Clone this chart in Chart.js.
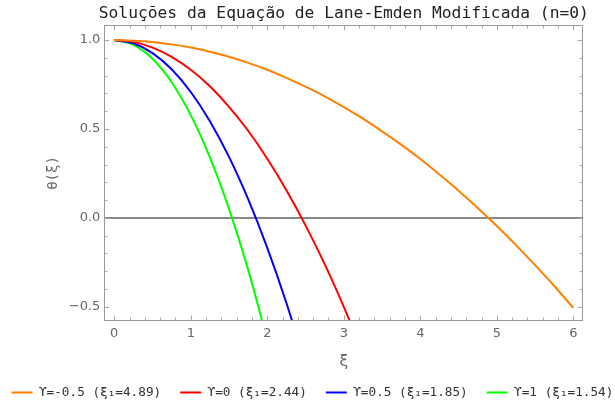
<!DOCTYPE html>
<html>
<head>
<meta charset="utf-8">
<title>Lane-Emden n=0</title>
<script src="https://cdn.jsdelivr.net/npm/chart.js@4.4.0/dist/chart.umd.min.js"></script>
<style>
  html, body { margin: 0; padding: 0; background: #fff; }
</style>
</head>
<body>
<canvas id="chart" width="615" height="405"></canvas>
<script>
// values
const xiOrange = [0, 0.25, 0.5, 0.75, 1, 1.25, 1.5, 1.75, 2, 2.25, 2.5, 2.75, 3, 3.25, 3.5, 3.75, 4, 4.25, 4.5, 4.75, 5, 5.25, 5.5, 5.75, 6];
const thetaOrange = [1.000, 0.997, 0.990, 0.976, 0.958, 0.935, 0.906, 0.872, 0.833, 0.788, 0.738, 0.684, 0.623, 0.558, 0.487, 0.412, 0.331, 0.244, 0.153, 0.056, -0.046, -0.153, -0.266, -0.383, -0.506];

const xiRed = [0, 0.25, 0.5, 0.75, 1, 1.25, 1.5, 1.75, 2, 2.25, 2.5, 2.75, 3, 3.25];
const thetaRed = [1.000, 0.990, 0.958, 0.906, 0.833, 0.740, 0.625, 0.490, 0.333, 0.156, -0.042, -0.260, -0.500, -0.760];

const xiBlue = [0, 0.25, 0.5, 0.75, 1, 1.25, 1.5, 1.75, 2, 2.25, 2.5];
const thetaBlue = [1.000, 0.982, 0.927, 0.836, 0.708, 0.544, 0.343, 0.105, -0.169, -0.479, -0.826];

const xiGreen = [0, 0.25, 0.5, 0.75, 1, 1.25, 1.5, 1.75, 2];
const thetaGreen = [1.000, 0.974, 0.895, 0.763, 0.578, 0.341, 0.051, -0.291, -0.687];

const seriesLabels = ['ϒ=-0.5 (ξ₁=4.89)', 'ϒ=0 (ξ₁=2.44)', 'ϒ=0.5 (ξ₁=1.85)', 'ϒ=1 (ξ₁=1.54)'];
const xTickValues = [0, 1, 2, 3, 4, 5, 6];
const yTickValues = [-0.5, 0, 0.5, 1];
const chartTitle = 'Soluções da Equação de Lane-Emden Modificada (n=0)';

const mono = "'DejaVu Sans Mono', monospace";
const sans = "'DejaVu Sans', sans-serif";
const labelGray = '#666';

const toPoints = (xs, ys) => xs.map((x, i) => ({ x: x, y: ys[i] }));

function lineSet(label, xs, ys, color) {
  return {
    label: label,
    data: toPoints(xs, ys),
    borderColor: color,
    backgroundColor: color,
    borderWidth: 2,
    pointRadius: 0,
    cubicInterpolationMode: 'monotone',
    fill: false
  };
}

// frame with inward ticks on all four sides (Mathematica style) + title centred over the plot
const frameTicks = {
  id: 'frameTicks',
  afterDatasetsDraw(chart) {
    const { ctx, chartArea: a, scales: { x, y } } = chart;
    const L = Math.round(a.left) + 0.5, R = Math.round(a.right) - 0.5;
    const T = Math.round(a.top) + 0.5, B = Math.round(a.bottom) - 0.5;
    ctx.save();
    ctx.lineWidth = 1;
    ctx.strokeStyle = '#aaa';
    ctx.beginPath();
    for (let i = 0; i <= 30; i++) {
      const px = Math.round(x.getPixelForValue(i * 0.2)) + 0.5;
      const len = i % 5 === 0 ? 5 : 3;
      ctx.moveTo(px, B); ctx.lineTo(px, B - len);
      ctx.moveTo(px, T); ctx.lineTo(px, T + len);
    }
    for (let i = -5; i <= 10; i++) {
      const py = Math.round(y.getPixelForValue(i / 10)) + 0.5;
      const len = i % 5 === 0 ? 5 : 3;
      ctx.moveTo(L, py); ctx.lineTo(L + len, py);
      ctx.moveTo(R, py); ctx.lineTo(R - len, py);
    }
    ctx.stroke();
    ctx.strokeStyle = '#999';
    ctx.strokeRect(L, T, R - L, B - T);

    ctx.fillStyle = '#222';
    ctx.font = '16.3px ' + mono;
    ctx.textAlign = 'center';
    ctx.textBaseline = 'middle';
    ctx.fillText(chartTitle, (a.left + a.right) / 2, 14);
    ctx.restore();
  }
};

new Chart(document.getElementById('chart').getContext('2d'), {
  type: 'line',
  data: {
    datasets: [
      lineSet(seriesLabels[0], xiOrange, thetaOrange, '#FF8000'),
      lineSet(seriesLabels[1], xiRed, thetaRed, '#FF0000'),
      lineSet(seriesLabels[2], xiBlue, thetaBlue, '#0000FF'),
      lineSet(seriesLabels[3], xiGreen, thetaGreen, '#00FF00')
    ]
  },
  options: {
    responsive: false,
    animation: false,
    layout: { padding: { left: -10, right: -20, top: 25, bottom: -3.85 } },
    plugins: {
      title: { display: false },
      legend: {
        position: 'bottom',
        labels: {
          usePointStyle: true,
          pointStyle: 'line',
          pointStyleWidth: 21,
          padding: 19,
          color: '#333',
          font: { family: mono, size: 12.7 }
        }
      },
      tooltip: { enabled: false }
    },
    scales: {
      x: {
        type: 'linear',
        min: -0.13,
        max: 6.13,
        afterBuildTicks: s => { s.ticks = xTickValues.map(v => ({ value: v })); },
        afterFit: s => { s.height = 46.15; },
        grid: { display: false, drawTicks: false },
        border: { display: false },
        ticks: {
          padding: 5,
          color: labelGray,
          font: { family: sans, size: 13 },
          callback: v => String(v)
        },
        title: {
          display: true,
          text: 'ξ',
          color: labelGray,
          font: { family: mono, size: 16, lineHeight: 1 },
          padding: { top: 0, bottom: -3 }
        }
      },
      y: {
        type: 'linear',
        position: 'left',
        min: -0.58,
        max: 1.085,
        afterBuildTicks: s => { s.ticks = yTickValues.map(v => ({ value: v })); },
        afterFit: s => { s.width = 114.3; },
        grid: {
          drawTicks: false,
          lineWidth: 2,
          color: c => (c.tick && c.tick.value === 0 ? '#888' : 'rgba(0,0,0,0)')
        },
        border: { display: false },
        ticks: {
          padding: 4,
          color: labelGray,
          font: { family: sans, size: 13 },
          callback: v => (v < 0 ? '\u2212' : '') + Math.abs(v).toFixed(1)
        },
        title: {
          display: true,
          text: 'θ(ξ)',
          color: labelGray,
          font: { family: mono, size: 14, lineHeight: 1 },
          padding: { top: 56, bottom: 0 }
        }
      },
      yRight: {
        type: 'linear',
        position: 'right',
        min: -0.58,
        max: 1.085,
        afterFit: s => { s.width = 51.7; },
        grid: { display: false, drawTicks: false },
        border: { display: false },
        ticks: { display: false }
      }
    }
  },
  plugins: [frameTicks]
});
</script>
</body>
</html>
